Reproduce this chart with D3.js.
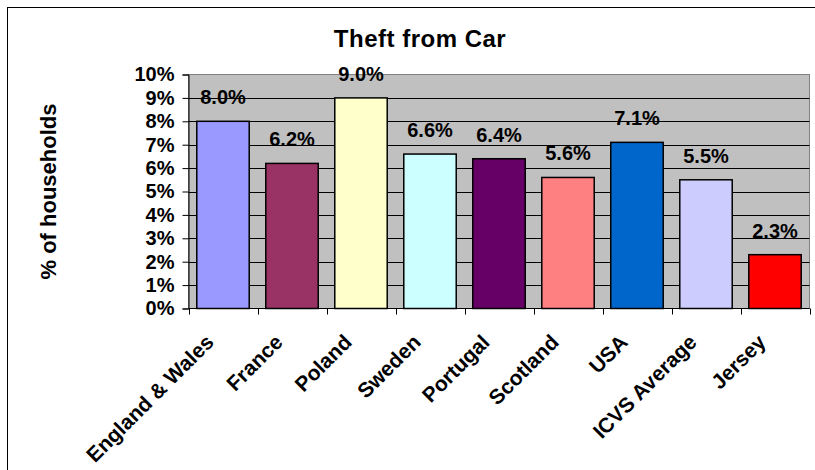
<!DOCTYPE html>
<html>
<head>
<meta charset="utf-8">
<script src="https://cdn.jsdelivr.net/npm/d3@7"></script>
<style>
  html, body { margin: 0; padding: 0; background: #fff; }
  svg { display: block; }
  text { font-family: "Liberation Sans", Arial, sans-serif; font-weight: bold; fill: #000; }
</style>
</head>
<body>
<svg id="chart" width="815" height="470"></svg>
<script>
// Theft from car, share of households by country
const categories = ["England & Wales", "France", "Poland", "Sweden", "Portugal", "Scotland", "USA", "ICVS Average", "Jersey"];
const values = [8.0, 6.2, 9.0, 6.6, 6.4, 5.6, 7.1, 5.5, 2.3];
const barColors = ["#9999FF", "#993366", "#FFFFCC", "#CCFFFF", "#660066", "#FF8080", "#0066CC", "#CCCCFF", "#FF0000"];
const yTicks = [0, 1, 2, 3, 4, 5, 6, 7, 8, 9, 10];
const chartTitle = "Theft from Car";
const yLabel = "% of households";

const svg = d3.select("#chart");

// outer chart frame
svg.append("rect")
  .attr("x", 7.5).attr("y", 7.5)
  .attr("width", 820).attr("height", 480)
  .attr("fill", "#fff").attr("stroke", "#000").attr("stroke-width", 1);

const plot = { left: 188.5, right: 809.5, top: 74.5, bottom: 308.5 };

const x = d3.scaleBand()
  .domain(categories)
  .range([plot.left, plot.right])
  .paddingInner(0.24)
  .paddingOuter(0.12);

const y = d3.scaleLinear()
  .domain([0, 10])
  .range([plot.bottom, plot.top]);

// plot area background
svg.append("rect")
  .attr("x", plot.left).attr("y", plot.top)
  .attr("width", plot.right - plot.left).attr("height", plot.bottom - plot.top)
  .attr("fill", "#C0C0C0").attr("stroke", "#808080").attr("stroke-width", 1);

// horizontal gridlines
svg.append("g")
  .selectAll("line")
  .data(yTicks.filter(t => t > 0 && t < 10))
  .join("line")
  .attr("x1", plot.left).attr("x2", plot.right)
  .attr("y1", d => Math.round(y(d)) + 0.5).attr("y2", d => Math.round(y(d)) + 0.5)
  .attr("stroke", "#000").attr("stroke-width", 1);

// bars
svg.append("g")
  .selectAll("rect")
  .data(categories)
  .join("rect")
  .attr("x", d => x(d))
  .attr("y", (d, i) => y(values[i]))
  .attr("width", x.bandwidth())
  .attr("height", (d, i) => plot.bottom - y(values[i]))
  .attr("fill", (d, i) => barColors[i])
  .attr("stroke", "#000").attr("stroke-width", 1.5);

// value labels
svg.append("g")
  .selectAll("text")
  .data(categories)
  .join("text")
  .attr("x", d => x(d) + x.bandwidth() / 2)
  .attr("y", (d, i) => y(values[i]) - 17)
  .attr("text-anchor", "middle")
  .attr("font-size", 20)
  .text((d, i) => values[i].toFixed(1) + "%");

// y axis
const yAxis = d3.axisLeft(y)
  .tickValues(yTicks)
  .tickFormat(d => d + "%")
  .tickSize(6)
  .tickPadding(8);
const yg = svg.append("g")
  .attr("transform", `translate(${plot.left},0)`)
  .call(yAxis);
yg.select(".domain").attr("stroke", "#000");
yg.selectAll(".tick line").attr("stroke", "#000");
yg.selectAll(".tick text")
  .attr("font-size", 20)
  .attr("font-family", "Liberation Sans, Arial, sans-serif")
  .attr("font-weight", "bold")
  .attr("fill", "#000");

// x axis: ticks between categories
const boundaries = categories.map(d => x(d) - x.step() * x.paddingInner() / 2).concat([plot.right]);
svg.append("line")
  .attr("x1", plot.left).attr("x2", plot.right)
  .attr("y1", plot.bottom).attr("y2", plot.bottom)
  .attr("stroke", "#000");
svg.append("g")
  .selectAll("line")
  .data(boundaries)
  .join("line")
  .attr("x1", d => Math.round(d) + 0.5).attr("x2", d => Math.round(d) + 0.5)
  .attr("y1", plot.bottom).attr("y2", plot.bottom + 6)
  .attr("stroke", "#000");

// rotated category labels
svg.append("g")
  .selectAll("text")
  .data(categories)
  .join("text")
  .attr("font-size", 21)
  .attr("text-anchor", "end")
  .attr("transform", d => {
    const cx = x(d) + x.bandwidth() / 2;
    return `translate(${cx - 8},${plot.bottom + 35}) rotate(-45)`;
  })
  .text(d => d);

// title
svg.append("text")
  .attr("x", 420).attr("y", 47)
  .attr("text-anchor", "middle")
  .attr("font-size", 24)
  .attr("letter-spacing", 0.5)
  .text(chartTitle);

// y axis title
svg.append("text")
  .attr("transform", `translate(56,${(plot.top + plot.bottom) / 2}) rotate(-90)`)
  .attr("text-anchor", "middle")
  .attr("font-size", 22)
  .text(yLabel);
</script>
</body>
</html>
